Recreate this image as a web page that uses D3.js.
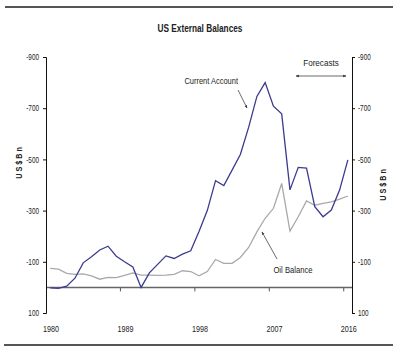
<!DOCTYPE html>
<html>
<head>
<meta charset="utf-8">
<script src="https://cdn.jsdelivr.net/npm/d3@7"></script>
<style>
    body { margin: 0; background: #fff; }
    svg { display: block; font-family: 'Liberation Sans', Arial, sans-serif; }
</style>
</head>
<body>
<div id="chart"></div>
<script>
/* data, US$ bn */
const years = d3.range(1980, 2017);
const currentAccount = [2, 4, -5, -36, -96, -120, -146, -161, -122, -100, -80, 0, -57, -90, -123, -113,
    -130, -143, -218, -300, -417, -398, -458, -519, -625, -746, -800, -708, -678, -381, -469, -466,
    -315, -276, -302, -380, -498];
const oilBalance = [-74, -71, -55, -51, -53, -45, -32, -39, -38, -47, -57, -48, -48, -47, -48, -51,
    -65, -62, -45, -62, -109, -94, -94, -117, -156, -217, -270, -309, -406, -220, -276, -338,
    -321, -328, -334, -345, -357];
const yTicks = [-900, -700, -500, -300, -100, 100];
const xTicks = [1980, 1989, 1998, 2007, 2016];

const W = 400, H = 353;
const plot = { left: 46, right: 352, top: 57, bottom: 313 };

const svg = d3.select('#chart').append('svg')
    .attr('width', W)
    .attr('height', H);

// no narrow font installed, so squeeze the glyphs instead
function narrow(sel, k) {
    sel.each(function () {
        const w = this.getComputedTextLength();
        d3.select(this).attr('textLength', w * k).attr('lengthAdjust', 'spacingAndGlyphs');
    });
}

// year slots: data sit in the middle of each slot, ticks on the slot edges
const xb = d3.scaleLinear().domain([1980, 2017]).range([plot.left, plot.right]);
const x = d => xb(d + 0.5);
const y = d3.scaleLinear().domain([100, -900]).range([plot.bottom, plot.top]);

// frame rules
svg.append('line').attr('x1', 5).attr('x2', 393).attr('y1', 7).attr('y2', 7)
    .style('stroke', '#555').style('stroke-width', 2);
svg.append('line').attr('x1', 4).attr('x2', 393).attr('y1', 345).attr('y2', 345)
    .style('stroke', '#555').style('stroke-width', 2);

svg.append('text')
    .attr('x', 200).attr('y', 32)
    .style('text-anchor', 'middle')
    .style('font-size', '11px')
    .style('font-weight', 'bold')
    .style('fill', '#222')
    .text('US External Balances')
    .call(narrow, 0.75);

// zero line with year ticks
svg.append('line')
    .attr('x1', plot.left).attr('x2', plot.right)
    .attr('y1', y(0)).attr('y2', y(0))
    .style('stroke', '#666').style('stroke-width', 1.5);

svg.selectAll('.xtick')
    .data(xTicks.slice(1))
    .enter().append('line')
    .attr('class', 'xtick')
    .attr('x1', d => xb(d)).attr('x2', d => xb(d))
    .attr('y1', y(0)).attr('y2', y(0) + 4)
    .style('stroke', '#555');

svg.selectAll('.xlabel')
    .data(xTicks)
    .enter().append('text')
    .attr('class', 'xlabel')
    .attr('x', d => x(d) + 1)
    .attr('y', 332)
    .style('text-anchor', 'middle')
    .style('font-size', '9px')
    .style('fill', '#222')
    .text(d => d)
    .call(narrow, 0.8);

// value axes on both sides
const fmt = d => String(d);
const leftAxis = svg.append('g')
    .attr('transform', `translate(${plot.left}, 0)`)
    .call(d3.axisLeft(y).tickValues(yTicks).tickSize(3).tickPadding(4).tickFormat(fmt));
const rightAxis = svg.append('g')
    .attr('transform', `translate(${plot.right}, 0)`)
    .call(d3.axisRight(y).tickValues(yTicks).tickSize(3).tickPadding(3).tickFormat(fmt));

[leftAxis, rightAxis].forEach(a => {
    a.select('.domain').style('stroke', '#111');
    a.selectAll('.tick line').style('stroke', '#111');
    a.selectAll('.tick text')
        .style('font-size', '8.5px')
        .style('font-family', "'Liberation Sans', Arial, sans-serif")
        .style('fill', '#222')
        .call(narrow, 0.75);
});

// unit labels
[[22, 163], [386, 185]].forEach(p => {
    svg.append('text')
        .attr('transform', `translate(${p[0]}, ${p[1]}) rotate(-90)`)
        .style('text-anchor', 'middle')
        .style('font-size', '9px')
        .style('font-weight', 'bold')
        .style('fill', '#222')
        .text('U S $  B n')
        .call(narrow, 0.8);
});

// series
const line = d3.line()
    .x((d, i) => x(years[i]))
    .y(d => y(d));

svg.append('path')
    .datum(oilBalance)
    .attr('d', line)
    .style('fill', 'none')
    .style('stroke', '#a9a9a9')
    .style('stroke-width', 1.3);

svg.append('path')
    .datum(currentAccount)
    .attr('d', line)
    .style('fill', 'none')
    .style('stroke', '#3b3b8f')
    .style('stroke-width', 1.3);

// annotations
const defs = svg.append('defs');
defs.append('marker')
    .attr('id', 'head')
    .attr('viewBox', '0 0 10 10')
    .attr('refX', 9).attr('refY', 5)
    .attr('markerWidth', 4).attr('markerHeight', 4)
    .attr('orient', 'auto-start-reverse')
    .append('path')
    .attr('d', 'M0,1 L10,5 L0,9 Z')
    .style('fill', '#333');

svg.append('text')
    .attr('x', 238).attr('y', 84)
    .style('text-anchor', 'end')
    .style('font-size', '9px')
    .style('fill', '#222')
    .text('Current Account')
    .call(narrow, 0.83);
svg.append('line')
    .attr('x1', 238).attr('y1', 90).attr('x2', 247).attr('y2', 108)
    .style('stroke', '#444').style('stroke-width', 0.8)
    .attr('marker-end', 'url(#head)');

svg.append('text')
    .attr('x', 293).attr('y', 273)
    .style('text-anchor', 'middle')
    .style('font-size', '9px')
    .style('fill', '#222')
    .text('Oil Balance')
    .call(narrow, 0.85);
svg.append('line')
    .attr('x1', 277).attr('y1', 259).attr('x2', 262).attr('y2', 232)
    .style('stroke', '#444').style('stroke-width', 0.8)
    .attr('marker-end', 'url(#head)');

svg.append('text')
    .attr('x', 321).attr('y', 66)
    .style('text-anchor', 'middle')
    .style('font-size', '9px')
    .style('fill', '#222')
    .text('Forecasts')
    .call(narrow, 0.9);
svg.append('line')
    .attr('x1', 296).attr('y1', 76).attr('x2', 346).attr('y2', 76)
    .style('stroke', '#444').style('stroke-width', 0.8)
    .attr('marker-start', 'url(#head)')
    .attr('marker-end', 'url(#head)');
</script>
</body>
</html>
